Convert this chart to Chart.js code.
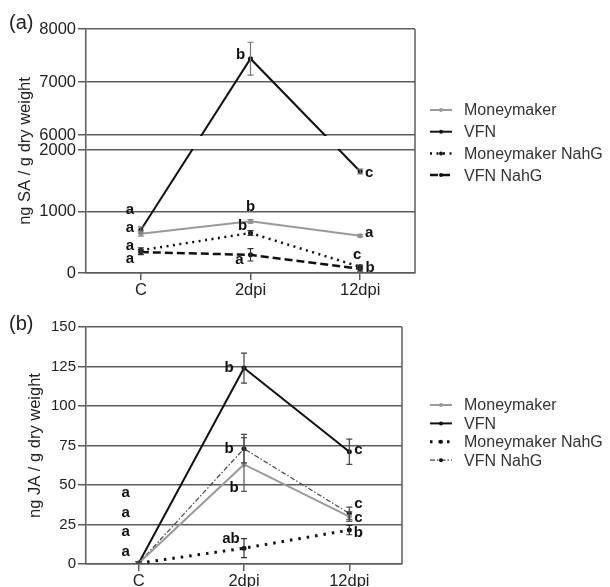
<!DOCTYPE html>
<html>
<head>
<meta charset="utf-8">
<script src="https://cdn.jsdelivr.net/npm/chart.js@4.4.1/dist/chart.umd.min.js"></script>
<style>
  body { margin: 0; background: #fff; }
  #wrap { position: relative; width: 610px; height: 587px; overflow: hidden; }
  canvas { position: absolute; left: 0; }
  #chartSA { top: 0; }
  #chartJA { top: 300px; }
</style>
</head>
<body>
<div id="wrap">
  <canvas id="chartSA" width="610" height="300"></canvas>
  <canvas id="chartJA" width="610" height="287"></canvas>
</div>
<script>
// Start Data
const categories = ['C', '2dpi', '12dpi'];
const seriesNames = ['Moneymaker', 'VFN', 'Moneymaker NahG', 'VFN NahG'];

// (a) SA, ng / g dry weight
const saMoneymaker = [640, 840, 606];
const saVFN = [700, 7440, 1650];
const saMMNahG = [370, 650, 100];
const saVFNNahG = [340, 295, 70];
const saErrMoneymaker = [40, 30, 20];
const saErrVFN = [50, 310, 40];
const saErrMMNahG = [40, 40, 30];
const saErrVFNNahG = [40, 100, 40];
const saTicks = [0, 1000, 2000, 6000, 7000, 8000];
const saLetters = [['a', 'b', 'a'], ['a', 'b', 'c'], ['a', 'b', 'c'], ['a', 'a', 'b']];

// (b) JA, ng / g dry weight
const jaMoneymaker = [0.5, 63, 30];
const jaVFN = [0.5, 124, 71];
const jaMMNahG = [0.5, 10, 21.5];
const jaVFNNahG = [0.5, 73, 32];
const jaErrMoneymaker = [1, 17, 3];
const jaErrVFN = [1, 9.5, 8];
const jaErrMMNahG = [1, 6, 3];
const jaErrVFNNahG = [1, 9, 4];
const jaTicks = [0, 25, 50, 75, 100, 125, 150];
const jaLetters = [['a', 'b', 'c'], ['a', 'b', 'c'], ['a', 'ab', 'b'], ['a', 'b', 'c']];
// End Data

// letter offsets from their point, in pixels
const saLetterPos = [
  [[-11, -6], [0, -14], [9, -3]],
  [[-11, -20], [-10, -4], [9, 1]],
  [[-11, -4], [-8, -7], [-3, -12]],
  [[-11, 7], [-11, 5], [10, -1]]
];
const jaLetterPos = [
  [[-13, -31], [-10, 23], [9, 1]],
  [[-13, -70], [-15, 0], [9, -2]],
  [[-13, -11], [-13, -9], [9, 3]],
  [[-13, -50], [-15, 0], [9, -10]]
];

const gridColor = '#5c5c5c';
const textColor = '#222';
Chart.defaults.font.family = "'Liberation Sans', Arial, sans-serif";

// Start broken y axis
class BrokenScale extends Chart.LinearScale {
  static id = 'broken';
  static defaults = Chart.LinearScale.defaults;

  brkDecimal(v) {
    const b = this.options.brk;
    const topShare = 1 - b.lowShare - b.gapShare;
    if (v <= b.low) return (v - this.min) / (b.low - this.min) * b.lowShare;
    if (v >= b.high) return b.lowShare + b.gapShare + (v - b.high) / (this.max - b.high) * topShare;
    return b.lowShare + (v - b.low) / (b.high - b.low) * b.gapShare;
  }
  getPixelForValue(value) {
    return this.getPixelForDecimal(this.brkDecimal(value));
  }
  getValueForPixel(pixel) {
    const d = this.getDecimalForPixel(pixel);
    const b = this.options.brk;
    const topShare = 1 - b.lowShare - b.gapShare;
    if (d <= b.lowShare) return this.min + d / b.lowShare * (b.low - this.min);
    if (d >= b.lowShare + b.gapShare) return b.high + (d - b.lowShare - b.gapShare) / topShare * (this.max - b.high);
    return b.low + (d - b.lowShare) / b.gapShare * (b.high - b.low);
  }
}
Chart.register(BrokenScale);
// End broken y axis

// Start plugins
const gapMask = {
  id: 'gapMask',
  afterDatasetsDraw(chart) {
    const y = chart.scales.y;
    const b = y.options.brk;
    if (!b) return;
    const area = chart.chartArea;
    const top = y.getPixelForValue(b.high) + 1;
    const bottom = y.getPixelForValue(b.low) - 1;
    chart.ctx.save();
    chart.ctx.fillStyle = '#fff';
    chart.ctx.fillRect(area.left + 1, top, area.right - area.left - 2, bottom - top);
    chart.ctx.restore();
  }
};

const errorBars = {
  id: 'errorBars',
  afterDatasetsDraw(chart) {
    const ctx = chart.ctx;
    const y = chart.scales.y;
    const area = chart.chartArea;
    ctx.save();
    ctx.beginPath();
    ctx.rect(area.left, area.top - 2, area.right - area.left, area.bottom - area.top + 2);
    ctx.clip();
    chart.data.datasets.forEach((ds, di) => {
      if (!ds.errors) return;
      const meta = chart.getDatasetMeta(di);
      ctx.strokeStyle = ds.errorColor;
      ctx.lineWidth = 1.2;
      ctx.setLineDash([]);
      meta.data.forEach((pt, i) => {
        const e = ds.errors[i];
        const top = y.getPixelForValue(ds.data[i] + e);
        const bot = y.getPixelForValue(Math.max(ds.data[i] - e, 0));
        ctx.beginPath();
        ctx.moveTo(pt.x, top); ctx.lineTo(pt.x, bot);
        ctx.moveTo(pt.x - 3, top); ctx.lineTo(pt.x + 3, top);
        ctx.moveTo(pt.x - 3, bot); ctx.lineTo(pt.x + 3, bot);
        ctx.stroke();
      });
    });
    ctx.restore();
  }
};

const sigLetters = {
  id: 'sigLetters',
  afterDatasetsDraw(chart, args, opts) {
    const ctx = chart.ctx;
    ctx.save();
    ctx.fillStyle = '#111';
    ctx.font = "bold 15px 'Liberation Sans', Arial, sans-serif";
    ctx.textAlign = 'center';
    ctx.textBaseline = 'middle';
    chart.data.datasets.forEach((ds, di) => {
      const meta = chart.getDatasetMeta(di);
      meta.data.forEach((pt, i) => {
        const off = opts.pos[di][i];
        ctx.fillText(opts.letters[di][i], pt.x + off[0], pt.y + off[1]);
      });
    });
    ctx.restore();
  }
};

const sideLegend = {
  id: 'sideLegend',
  afterDraw(chart, args, opts) {
    const ctx = chart.ctx;
    ctx.save();
    chart.data.datasets.forEach((ds, i) => {
      const y = opts.y + i * opts.gap;
      ctx.strokeStyle = ds.borderColor;
      ctx.lineWidth = ds.borderWidth;
      ctx.setLineDash(ds.borderDash || []);
      ctx.beginPath();
      ctx.moveTo(opts.x, y);
      ctx.lineTo(opts.x + 22, y);
      ctx.stroke();
      ctx.setLineDash([]);
      ctx.fillStyle = ds.pointBackgroundColor;
      ctx.beginPath();
      ctx.arc(opts.x + 11, y, 2, 0, Math.PI * 2);
      ctx.fill();
      ctx.fillStyle = '#333';
      ctx.font = "16px 'Liberation Sans', Arial, sans-serif";
      ctx.textBaseline = 'middle';
      ctx.fillText(ds.label, opts.x + 34, y + 1);
    });
    ctx.restore();
  }
};

const frame = {
  id: 'frame',
  beforeDatasetsDraw(chart) {
    const a = chart.chartArea;
    const ctx = chart.ctx;
    ctx.save();
    ctx.strokeStyle = gridColor;
    ctx.lineWidth = 1.5;
    ctx.beginPath();
    ctx.moveTo(a.right, a.top);
    ctx.lineTo(a.right, a.bottom);
    ctx.stroke();
    ctx.restore();
  }
};

const panelTag = {
  id: 'panelTag',
  afterDraw(chart, args, opts) {
    const ctx = chart.ctx;
    ctx.save();
    ctx.fillStyle = textColor;
    ctx.font = "20px 'Liberation Sans', Arial, sans-serif";
    ctx.textBaseline = 'middle';
    ctx.fillText(opts.text, 9, opts.y);
    ctx.restore();
  }
};
// End plugins

function makeDatasets(values, errors, styles) {
  return seriesNames.map((name, i) => Object.assign({
    label: name,
    data: values[i],
    errors: errors[i],
    fill: false,
    tension: 0,
    pointRadius: 2.5,
    pointBorderWidth: 0
  }, styles[i]));
}

const stylesSA = [
  { borderColor: '#9a9a9a', pointBackgroundColor: '#9a9a9a', errorColor: '#8a8a8a', borderWidth: 2 },
  { borderColor: '#111', pointBackgroundColor: '#111', errorColor: '#777', borderWidth: 2 },
  { borderColor: '#111', pointBackgroundColor: '#111', errorColor: '#333', borderWidth: 2.5, borderDash: [2, 4.5] },
  { borderColor: '#111', pointBackgroundColor: '#111', errorColor: '#333', borderWidth: 2.5, borderDash: [8, 4] }
];
const stylesJA = [
  { borderColor: '#9a9a9a', pointBackgroundColor: '#9a9a9a', errorColor: '#555', borderWidth: 2 },
  { borderColor: '#111', pointBackgroundColor: '#111', errorColor: '#444', borderWidth: 2 },
  { borderColor: '#111', pointBackgroundColor: '#111', errorColor: '#333', borderWidth: 3, borderDash: [2.5, 6] },
  { borderColor: '#444', pointBackgroundColor: '#111', errorColor: '#444', borderWidth: 1.2, borderDash: [5, 2, 1.5, 2] }
];

function axisX(height) {
  return {
    type: 'category',
    offset: true,
    grid: { drawOnChartArea: false, offset: false, tickLength: 7, color: gridColor, lineWidth: 1.5 },
    border: { color: gridColor, width: 1.5 },
    ticks: { color: textColor, font: { size: 16.5 }, padding: 1, maxRotation: 0 },
    afterFit: s => { s.height = height; }
  };
}

function axisY(extra, title, tickSize, titlePad) {
  return Object.assign({
    grid: { color: gridColor, lineWidth: 1.5, tickLength: 8 },
    border: { color: gridColor, width: 1.5 },
    ticks: { autoSkip: false, callback: v => String(v), color: textColor, font: { size: tickSize }, padding: 2 },
    title: { display: true, text: title, color: textColor, font: { size: 16.5 }, padding: { top: titlePad, bottom: 0 } },
    afterFit: s => { s.width = 86; }
  }, extra);
}

// Start SA chart
new Chart(document.getElementById('chartSA'), {
  type: 'line',
  data: {
    labels: categories,
    datasets: makeDatasets(
      [saMoneymaker, saVFN, saMMNahG, saVFNNahG],
      [saErrMoneymaker, saErrVFN, saErrMMNahG, saErrVFNNahG],
      stylesSA)
  },
  options: {
    responsive: false,
    animation: false,
    events: [],
    layout: { padding: { top: 29, right: 195, left: 0, bottom: 0 } },
    scales: {
      x: axisX(27),
      y: axisY({
        type: 'broken', min: 0, max: 8000,
        brk: { low: 2000, high: 6000, lowShare: 123 / 244, gapShare: 15 / 244 },
        afterBuildTicks: s => { s.ticks = saTicks.map(v => ({ value: v })); }
      }, 'ng SA / g dry weight', 16.5, 16)
    },
    plugins: {
      legend: { display: false },
      tooltip: { enabled: false },
      sigLetters: { letters: saLetters, pos: saLetterPos },
      sideLegend: { x: 430, y: 110, gap: 21.7 },
      panelTag: { text: '(a)', y: 23 }
    }
  },
  plugins: [frame, gapMask, errorBars, sigLetters, sideLegend, panelTag]
});
// End SA chart

// Start JA chart
new Chart(document.getElementById('chartJA'), {
  type: 'line',
  data: {
    labels: categories,
    datasets: makeDatasets(
      [jaMoneymaker, jaVFN, jaMMNahG, jaVFNNahG],
      [jaErrMoneymaker, jaErrVFN, jaErrMMNahG, jaErrVFNNahG],
      stylesJA)
  },
  options: {
    responsive: false,
    animation: false,
    events: [],
    layout: { padding: { top: 27, right: 208, left: 0, bottom: 0 } },
    scales: {
      x: axisX(23),
      y: axisY({
        type: 'linear', min: 0, max: 150,
        afterBuildTicks: s => { s.ticks = jaTicks.map(v => ({ value: v })); }
      }, 'ng JA / g dry weight', 15, 26)
    },
    plugins: {
      legend: { display: false },
      tooltip: { enabled: false },
      sigLetters: { letters: jaLetters, pos: jaLetterPos },
      sideLegend: { x: 430, y: 105, gap: 18.4 },
      panelTag: { text: '(b)', y: 24 }
    }
  },
  plugins: [frame, errorBars, sigLetters, sideLegend, panelTag]
});
// End JA chart
</script>
</body>
</html>
